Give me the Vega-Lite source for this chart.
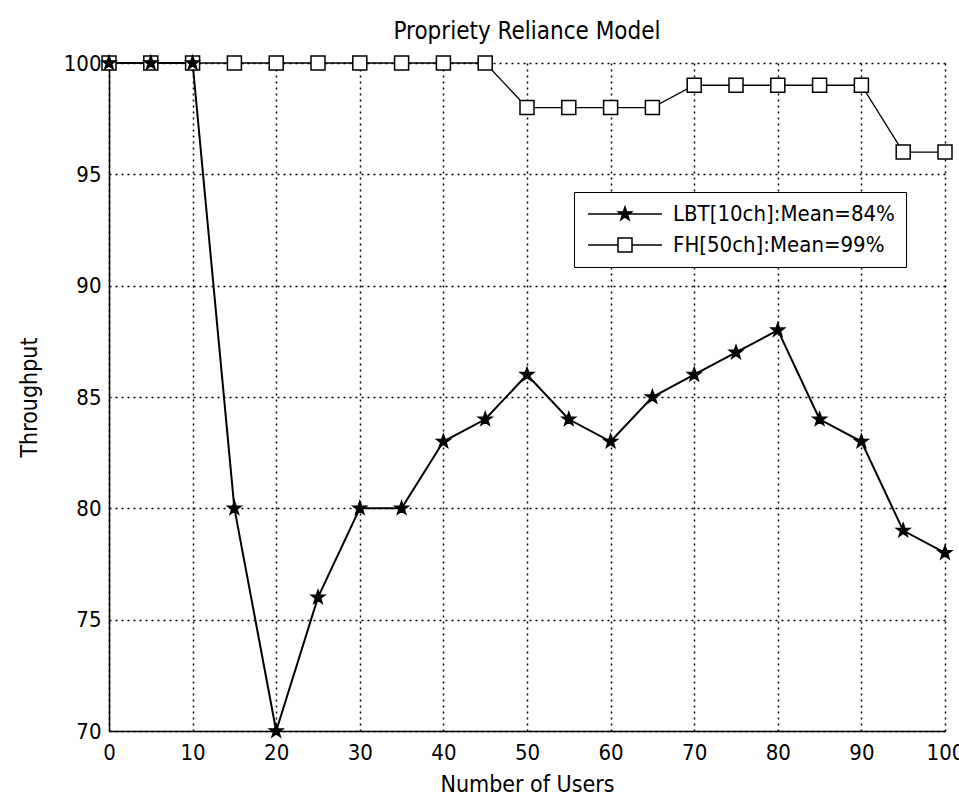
{
  "$schema": "https://vega.github.io/schema/vega-lite/v6.json",
  "width": 836,
  "height": 668,
  "autosize": "none",
  "padding": {"left": 109, "top": 63, "right": 14, "bottom": 66},
  "background": "white",
  "config": {
    "font": "DejaVu Sans Condensed, Liberation Sans, sans-serif",
    "view": {"stroke": null},
    "axis": {
      "labelFont": "DejaVu Sans Condensed, Liberation Sans, sans-serif",
      "titleFont": "DejaVu Sans Condensed, Liberation Sans, sans-serif",
      "labelColor": "black",
      "titleColor": "black",
      "labelFontSize": 22,
      "titleFontSize": 23,
      "titleFontWeight": "normal",
      "domainColor": "black",
      "domainWidth": 1.5,
      "gridColor": "black",
      "gridDash": [2, 4],
      "gridWidth": 1.5,
      "gridOpacity": 1,
      "ticks": false
    },
    "legend": {
      "labelFont": "DejaVu Sans Condensed, Liberation Sans, sans-serif"
    }
  },
  "title": {
    "text": "Propriety Reliance Model",
    "font": "DejaVu Sans Condensed, Liberation Sans, sans-serif",
    "fontSize": 24,
    "fontWeight": "normal",
    "color": "black",
    "offset": 8
  },
  "data": {
    "values": [
      {"users": 0, "throughput": 100, "series": "FH[50ch]:Mean=99%"},
      {"users": 5, "throughput": 100, "series": "FH[50ch]:Mean=99%"},
      {"users": 10, "throughput": 100, "series": "FH[50ch]:Mean=99%"},
      {"users": 15, "throughput": 100, "series": "FH[50ch]:Mean=99%"},
      {"users": 20, "throughput": 100, "series": "FH[50ch]:Mean=99%"},
      {"users": 25, "throughput": 100, "series": "FH[50ch]:Mean=99%"},
      {"users": 30, "throughput": 100, "series": "FH[50ch]:Mean=99%"},
      {"users": 35, "throughput": 100, "series": "FH[50ch]:Mean=99%"},
      {"users": 40, "throughput": 100, "series": "FH[50ch]:Mean=99%"},
      {"users": 45, "throughput": 100, "series": "FH[50ch]:Mean=99%"},
      {"users": 50, "throughput": 98, "series": "FH[50ch]:Mean=99%"},
      {"users": 55, "throughput": 98, "series": "FH[50ch]:Mean=99%"},
      {"users": 60, "throughput": 98, "series": "FH[50ch]:Mean=99%"},
      {"users": 65, "throughput": 98, "series": "FH[50ch]:Mean=99%"},
      {"users": 70, "throughput": 99, "series": "FH[50ch]:Mean=99%"},
      {"users": 75, "throughput": 99, "series": "FH[50ch]:Mean=99%"},
      {"users": 80, "throughput": 99, "series": "FH[50ch]:Mean=99%"},
      {"users": 85, "throughput": 99, "series": "FH[50ch]:Mean=99%"},
      {"users": 90, "throughput": 99, "series": "FH[50ch]:Mean=99%"},
      {"users": 95, "throughput": 96, "series": "FH[50ch]:Mean=99%"},
      {"users": 100, "throughput": 96, "series": "FH[50ch]:Mean=99%"},
      {"users": 0, "throughput": 100, "series": "LBT[10ch]:Mean=84%"},
      {"users": 5, "throughput": 100, "series": "LBT[10ch]:Mean=84%"},
      {"users": 10, "throughput": 100, "series": "LBT[10ch]:Mean=84%"},
      {"users": 15, "throughput": 80, "series": "LBT[10ch]:Mean=84%"},
      {"users": 20, "throughput": 70, "series": "LBT[10ch]:Mean=84%"},
      {"users": 25, "throughput": 76, "series": "LBT[10ch]:Mean=84%"},
      {"users": 30, "throughput": 80, "series": "LBT[10ch]:Mean=84%"},
      {"users": 35, "throughput": 80, "series": "LBT[10ch]:Mean=84%"},
      {"users": 40, "throughput": 83, "series": "LBT[10ch]:Mean=84%"},
      {"users": 45, "throughput": 84, "series": "LBT[10ch]:Mean=84%"},
      {"users": 50, "throughput": 86, "series": "LBT[10ch]:Mean=84%"},
      {"users": 55, "throughput": 84, "series": "LBT[10ch]:Mean=84%"},
      {"users": 60, "throughput": 83, "series": "LBT[10ch]:Mean=84%"},
      {"users": 65, "throughput": 85, "series": "LBT[10ch]:Mean=84%"},
      {"users": 70, "throughput": 86, "series": "LBT[10ch]:Mean=84%"},
      {"users": 75, "throughput": 87, "series": "LBT[10ch]:Mean=84%"},
      {"users": 80, "throughput": 88, "series": "LBT[10ch]:Mean=84%"},
      {"users": 85, "throughput": 84, "series": "LBT[10ch]:Mean=84%"},
      {"users": 90, "throughput": 83, "series": "LBT[10ch]:Mean=84%"},
      {"users": 95, "throughput": 79, "series": "LBT[10ch]:Mean=84%"},
      {"users": 100, "throughput": 78, "series": "LBT[10ch]:Mean=84%"}
    ]
  },
  "encoding": {
    "x": {
      "field": "users",
      "type": "quantitative",
      "scale": {"domain": [0, 100], "nice": false, "zero": false},
      "axis": {"values": [0, 10, 20, 30, 40, 50, 60, 70, 80, 90, 100], "title": "Number of Users", "labelPadding": 11, "titlePadding": 10, "labelFlush": false}
    },
    "y": {
      "field": "throughput",
      "type": "quantitative",
      "scale": {"domain": [70, 100], "nice": false, "zero": false},
      "axis": {"values": [70, 75, 80, 85, 90, 95, 100], "title": "Throughput", "labelPadding": 8, "titlePadding": 22, "labelFlush": false}
    }
  },
  "layer": [
    {
      "transform": [{"filter": "datum.series === 'FH[50ch]:Mean=99%'"}],
      "mark": {"type": "line", "color": "black", "strokeWidth": 1.3},
      "encoding": {}
    },
    {
      "transform": [{"filter": "datum.series === 'LBT[10ch]:Mean=84%'"}],
      "mark": {"type": "line", "color": "black", "strokeWidth": 2},
      "encoding": {}
    },
    {
      "mark": {"type": "point", "stroke": "black", "strokeWidth": 1.5, "opacity": 1, "size": 196, "filled": false},
      "encoding": {
        "shape": {
          "condition": {"test": "datum.series === 'LBT[10ch]:Mean=84%'", "value": "M0,-1L0.235,-0.324L0.951,-0.309L0.380,0.124L0.588,0.809L0,0.4L-0.588,0.809L-0.380,0.124L-0.951,-0.309L-0.235,-0.324Z"},
          "value": "square"
        },
        "fill": {
          "condition": {"test": "datum.series === 'LBT[10ch]:Mean=84%'", "value": "black"},
          "value": "white"
        }
      }
    },
    {
      "transform": [{"filter": "false"}],
      "mark": {"type": "point", "strokeWidth": 1.5, "opacity": 1, "filled": false},
      "encoding": {
        "shape": {
          "field": "series",
          "type": "nominal",
          "scale": {
            "domain": ["LBT[10ch]:Mean=84%", "FH[50ch]:Mean=99%"],
            "range": ["M-3.7,0H3.7M0,-0.7L0.165,-0.227L0.666,-0.216L0.266,0.087L0.412,0.566L0,0.28L-0.412,0.566L-0.266,0.087L-0.666,-0.216L-0.165,-0.227Z", "M-3.7,0H-0.7M0.7,0H3.7M-0.7,-0.7H0.7V0.7H-0.7Z"]
          },
          "legend": {
            "title": null,
            "orient": "none",
            "legendX": 465,
            "legendY": 129,
            "strokeColor": "black",
            "fillColor": "white",
            "padding": 11,
            "labelFontSize": 22,
            "labelColor": "black",
            "labelLimit": 0,
            "symbolSize": 400,
            "symbolStrokeWidth": 1.5,
            "symbolOpacity": 1,
            "symbolOffset": 29,
            "labelOffset": 37,
            "rowPadding": 9
          }
        },
        "fill": {
          "field": "series",
          "type": "nominal",
          "scale": {"domain": ["LBT[10ch]:Mean=84%", "FH[50ch]:Mean=99%"], "range": ["black", "white"]},
          "legend": {
            "title": null,
            "orient": "none",
            "legendX": 465,
            "legendY": 129,
            "strokeColor": "black",
            "fillColor": "white",
            "padding": 11,
            "labelFontSize": 22,
            "labelColor": "black",
            "labelLimit": 0,
            "symbolSize": 400,
            "symbolStrokeWidth": 1.5,
            "symbolOpacity": 1,
            "symbolOffset": 29,
            "labelOffset": 37,
            "rowPadding": 9
          }
        },
        "stroke": {
          "field": "series",
          "type": "nominal",
          "scale": {"domain": ["LBT[10ch]:Mean=84%", "FH[50ch]:Mean=99%"], "range": ["black", "black"]},
          "legend": {
            "title": null,
            "orient": "none",
            "legendX": 465,
            "legendY": 129,
            "strokeColor": "black",
            "fillColor": "white",
            "padding": 11,
            "labelFontSize": 22,
            "labelColor": "black",
            "labelLimit": 0,
            "symbolSize": 400,
            "symbolStrokeWidth": 1.5,
            "symbolOpacity": 1,
            "symbolOffset": 29,
            "labelOffset": 37,
            "rowPadding": 9
          }
        }
      }
    }
  ]
}
